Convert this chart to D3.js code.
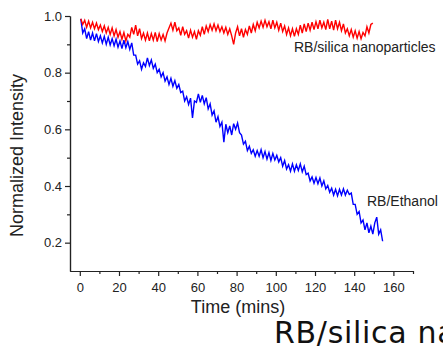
<!DOCTYPE html>
<html>
<head>
<meta charset="utf-8">
<script src="https://cdn.jsdelivr.net/npm/d3@7"></script>
<style>
  body { margin: 0; background: #fff; }
  svg { display: block; }
  .axis text { font-family: "Liberation Sans", Arial, sans-serif; font-size: 13px; fill: #222; }
  .axis path, .axis line { stroke: #222; stroke-width: 1.2; }
  .title { font-family: "Liberation Sans", Arial, sans-serif; font-size: 18px; fill: #222; }
  .label { font-family: "Liberation Sans", Arial, sans-serif; font-size: 14px; fill: #222; }
  .big { font-family: "DejaVu Sans", sans-serif; font-size: 30px; letter-spacing: 0.7px; fill: #111; }
</style>
</head>
<body>
<svg id="chart"></svg>
<script>
// sampling: first point at 0.5 min, then one reading per minute
var tStart = 0.5, tStep = 1;

// RB/Ethanol (blue)
var ethanol = [
  0.99, 0.94, 0.955, 0.92, 0.945, 0.915, 0.94, 0.912, 0.938, 0.91,
  0.93, 0.905, 0.928, 0.9, 0.925, 0.898, 0.92, 0.895, 0.918, 0.89,
  0.912, 0.885, 0.915, 0.888, 0.91, 0.882, 0.905, 0.862, 0.862, 0.83,
  0.842, 0.812, 0.835, 0.822, 0.852, 0.825, 0.845, 0.815, 0.83, 0.8,
  0.812, 0.785, 0.8, 0.77, 0.785, 0.758, 0.78, 0.752, 0.772, 0.745,
  0.758, 0.73, 0.735, 0.7, 0.715, 0.688, 0.71, 0.64, 0.7, 0.695,
  0.725, 0.695, 0.72, 0.69, 0.712, 0.672, 0.69, 0.65, 0.665, 0.625,
  0.645, 0.61, 0.625, 0.555, 0.618, 0.588, 0.612, 0.58, 0.62, 0.6,
  0.622, 0.588, 0.58, 0.548, 0.558, 0.525, 0.54, 0.515, 0.528, 0.505,
  0.525, 0.505, 0.528, 0.5, 0.522, 0.495, 0.518, 0.49, 0.515, 0.492,
  0.508, 0.485, 0.5, 0.47, 0.49, 0.46, 0.475, 0.452, 0.478, 0.452,
  0.475, 0.455, 0.478, 0.45, 0.47, 0.44, 0.445, 0.418, 0.432, 0.41,
  0.43, 0.408, 0.428, 0.4, 0.418, 0.39, 0.402, 0.378, 0.392, 0.368,
  0.388, 0.365, 0.388, 0.368, 0.39, 0.368, 0.385, 0.37, 0.375, 0.335,
  0.335, 0.3, 0.31, 0.27, 0.28, 0.245, 0.27, 0.235, 0.258, 0.23,
  0.27, 0.29, 0.23, 0.245, 0.205
];

// RB/silica nanoparticles (red)
var silica = [
  0.99, 0.97, 0.985, 0.96, 0.982, 0.958, 0.978, 0.955, 0.975, 0.952,
  0.968, 0.945, 0.965, 0.94, 0.96, 0.935, 0.958, 0.93, 0.952, 0.925,
  0.945, 0.918, 0.942, 0.912, 0.935, 0.925, 0.96, 0.935, 0.968, 0.93,
  0.955, 0.92, 0.94, 0.915, 0.94, 0.912, 0.938, 0.915, 0.942, 0.91,
  0.938, 0.915, 0.935, 0.912, 0.94, 0.958, 0.975, 0.95, 0.978, 0.948,
  0.958, 0.932, 0.962, 0.935, 0.948, 0.922, 0.95, 0.925, 0.945, 0.918,
  0.948, 0.932, 0.962, 0.935, 0.965, 0.945, 0.97, 0.95, 0.972, 0.948,
  0.968, 0.945, 0.962, 0.94, 0.96, 0.935, 0.955, 0.93, 0.9, 0.94,
  0.962, 0.93, 0.955, 0.925, 0.952, 0.935, 0.965, 0.94, 0.97, 0.948,
  0.978, 0.958, 0.982, 0.96, 0.985, 0.962, 0.98, 0.955, 0.985, 0.958,
  0.978, 0.95, 0.975, 0.945, 0.965, 0.935, 0.958, 0.93, 0.955, 0.928,
  0.955, 0.935, 0.968, 0.94, 0.972, 0.945, 0.975, 0.95, 0.978, 0.952,
  0.98, 0.955, 0.985, 0.958, 0.978, 0.952, 0.988, 0.955, 0.982, 0.95,
  0.985, 0.955, 0.978, 0.948, 0.972, 0.94, 0.955, 0.93, 0.952, 0.925,
  0.948, 0.922, 0.945, 0.92, 0.942, 0.93, 0.962, 0.94, 0.97, 0.975
];

var xTicks = [0, 20, 40, 60, 80, 100, 120, 140, 160];
var xMinor = [10, 30, 50, 70, 90, 110, 130, 150, 170];
var yTicks = [0.2, 0.4, 0.6, 0.8, 1.0];
var yMinor = [0.3, 0.5, 0.7, 0.9];

var width = 443, height = 347;
var plotLeft = 70, plotRight = 413, plotTop = 16, plotBottom = 271;

var svg = d3.select("#chart").attr("width", width).attr("height", height);

var x = d3.scaleLinear().domain([-5, 170]).range([plotLeft, plotRight]);
var y = d3.scaleLinear().domain([0.1, 1.0]).range([plotBottom, plotTop]);

// minor ticks first
svg.append("g")
  .attr("class", "axis")
  .attr("transform", "translate(0," + plotBottom + ")")
  .call(d3.axisBottom(x).tickValues(xMinor).tickSize(3).tickSizeOuter(0).tickFormat(""));
svg.append("g")
  .attr("class", "axis")
  .attr("transform", "translate(" + plotLeft + ",0)")
  .call(d3.axisLeft(y).tickValues(yMinor).tickSize(3).tickSizeOuter(0).tickFormat(""));

svg.append("g")
  .attr("class", "axis")
  .attr("transform", "translate(0," + plotBottom + ")")
  .call(d3.axisBottom(x).tickValues(xTicks).tickSize(5).tickPadding(7).tickSizeOuter(0));

svg.append("g")
  .attr("class", "axis")
  .attr("transform", "translate(" + plotLeft + ",0)")
  .call(d3.axisLeft(y).tickValues(yTicks).tickSize(5).tickPadding(3).tickSizeOuter(0)
    .tickFormat(d3.format(".1f")));

var line = d3.line()
  .x(function (d, i) { return x(tStart + i * tStep); })
  .y(function (d) { return y(d); });

svg.append("path")
  .datum(ethanol)
  .attr("fill", "none")
  .attr("stroke", "#0000ff")
  .attr("stroke-width", 1.4)
  .attr("d", line);

svg.append("path")
  .datum(silica)
  .attr("fill", "none")
  .attr("stroke", "#ff0000")
  .attr("stroke-width", 1.4)
  .attr("d", line);

// series labels
svg.append("text").attr("class", "label").attr("x", 294).attr("y", 52).text("RB/silica nanoparticles");
svg.append("text").attr("class", "label").attr("x", 367).attr("y", 206).text("RB/Ethanol");

// axis titles
svg.append("text")
  .attr("class", "title")
  .attr("text-anchor", "middle")
  .attr("transform", "translate(23," + ((plotTop + plotBottom) / 2 + 12) + ") rotate(-90)")
  .text("Normalized Intensity");

svg.append("text")
  .attr("class", "title")
  .attr("text-anchor", "middle")
  .attr("x", 238)
  .attr("y", 313)
  .text("Time (mins)");

// stray oversized copy of the label, cut by the page edge
svg.append("text").attr("class", "big").attr("x", 274).attr("y", 343).text("RB/silica nanoparticles");
</script>
</body>
</html>
